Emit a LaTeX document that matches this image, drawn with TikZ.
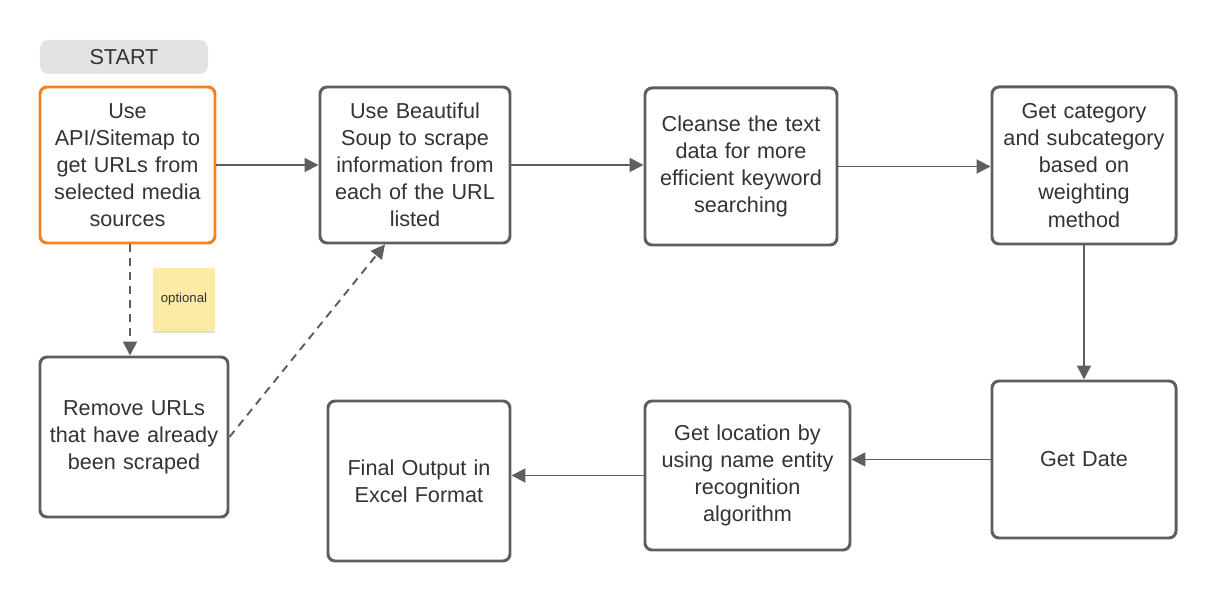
\documentclass[tikz,border=0pt]{standalone}
\usepackage{fontspec}
\setmainfont{Liberation Sans}
\usetikzlibrary{arrows.meta, positioning, shadows}
\definecolor{lineg}{HTML}{5E5E5E}
\definecolor{txtg}{HTML}{333333}
\definecolor{orng}{HTML}{F7811F}
\definecolor{startg}{HTML}{E3E3E3}
\definecolor{notey}{HTML}{FCEBA4}
\begin{document}
\begin{tikzpicture}[
        b/.style={rectangle, draw=lineg, line width=1.7pt, rounded corners=4pt,
                  fill=white, text=txtg, align=center, inner sep=0pt,
                  font=\fontsize{12.3}{15.4}\selectfont},
        s/.style={rectangle, fill=startg, rounded corners=5pt, text=txtg, inner sep=0pt,
                  minimum width=3.36cm, minimum height=0.68cm, font=\fontsize{12.3}{15.4}\selectfont},
        nt/.style={rectangle, fill=notey, inner sep=0pt, minimum width=1.24cm, minimum height=1.26cm,
                   text=txtg, font=\fontsize{7.5}{9}\selectfont,
                   drop shadow={opacity=0.25, shadow xshift=0pt, shadow yshift=-0.05cm}},
        arr/.style={-{Triangle[length=0.28cm,width=0.28cm]}, line width=1.1pt, lineg},
        darr/.style={arr, dash pattern=on 0.16cm off 0.12cm}]
      \useasboundingbox (0,0) rectangle (24.32,-12.02);
      \node[s] (start) at (2.48,-1.14) {START};
      \node[b, draw=orng, text width=3.5cm, minimum height=3.12cm] (api) at (2.55,-3.30)
           {Use\\ API/Sitemap to\\ get URLs from\\ selected media\\ sources};
      \node[b, text width=3.8cm, minimum height=3.12cm] (soup) at (8.30,-3.30)
           {Use Beautiful\\ Soup to scrape\\ information from\\ each of the URL\\ listed};
      \node[b, text width=3.84cm, minimum height=3.14cm] (clean) at (14.82,-3.33)
           {Cleanse the text\\ data for more\\ efficient keyword\\ searching};
      \node[b, text width=3.68cm, minimum height=3.14cm] (cat) at (21.68,-3.31)
           {Get category\\ and subcategory\\ based on\\ weighting\\ method};
      \node[b, text width=3.76cm, minimum height=3.2cm] (rem) at (2.68,-8.74)
           {Remove URLs\\ that have already\\ been scraped};
      \node[b, text width=3.64cm, minimum height=3.2cm] (final) at (8.38,-9.62)
           {Final Output in\\ Excel Format};
      \node[b, text width=4.1cm, minimum height=2.98cm] (loc) at (14.95,-9.51)
           {Get location by\\ using name entity\\ recognition\\ algorithm};
      \node[b, text width=3.68cm, minimum height=3.14cm] (date) at (21.68,-9.19) {Get Date};
      \node[nt] (opt) at (3.68,-5.99) {optional};
      % main flow
      \draw[arr] (api) -- (soup);
      \draw[arr] (soup.east) -- (soup.east -| clean.west);
      \draw[arr] (clean.east) -- (clean.east -| cat.west);
      \draw[arr] (cat) -- (date);
      \draw[arr] (date.west) -- (date.west -| loc.east);
      \draw[arr] (loc.west) -- (loc.west -| final.east);
      % optional branch
      \draw[darr] ([xshift=0.05cm]api.south) -- ([xshift=0.05cm]api.south |- rem.north);
      \draw[darr] (rem.east) -- ([xshift=-0.6cm]soup.south);
    \end{tikzpicture}
\end{document}
